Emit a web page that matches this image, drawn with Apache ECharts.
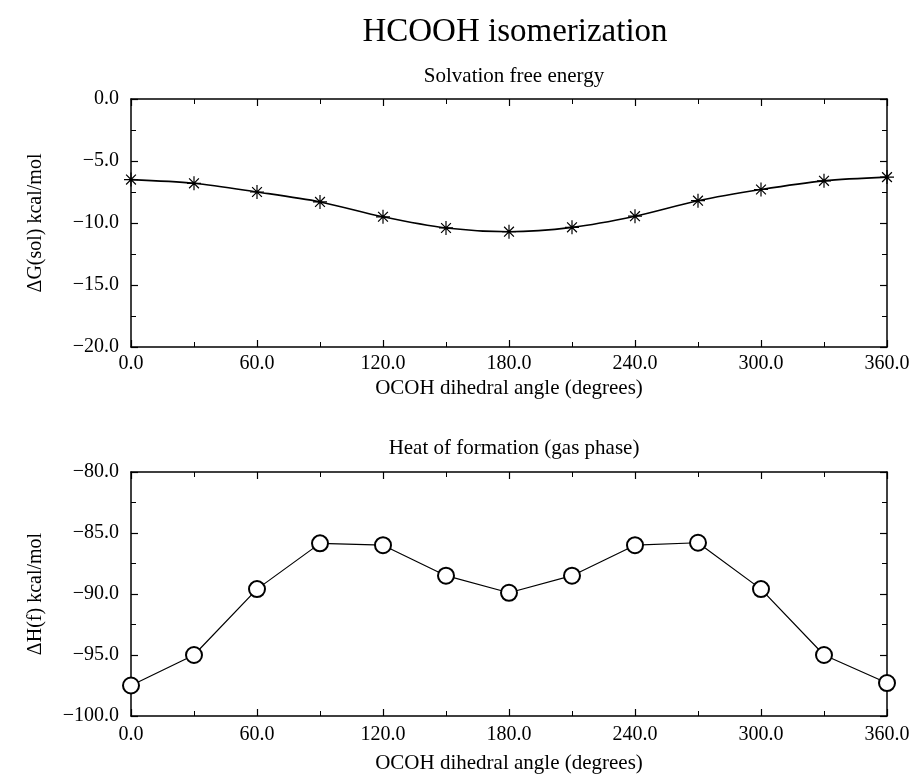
<!DOCTYPE html>
<html>
<head>
<meta charset="utf-8">
<script src="https://cdn.jsdelivr.net/npm/echarts@6/dist/echarts.min.js"></script>
<style>
html, body { margin: 0; padding: 0; background: #fff; }
#chart { width: 915px; height: 774px; }
</style>
</head>
<body>
<div id="chart"></div>
<script>
var angles = [0, 30, 60, 90, 120, 150, 180, 210, 240, 270, 300, 330, 360];
var dGsol = [-6.5, -6.8, -7.5, -8.3, -9.5, -10.4, -10.7, -10.35, -9.45, -8.2, -7.3, -6.6, -6.3];
var dHf = [-97.5, -95.0, -89.6, -85.85, -86.0, -88.5, -89.9, -88.5, -86.0, -85.8, -89.6, -95.0, -97.3];

(function () {
    var myChart = echarts.init(document.querySelector('#chart'));
    var font = 'Liberation Serif';
    var fmt = function (v) {
        return (v < 0 ? '\u2212' : '') + Math.abs(v).toFixed(1);
    };
    var star = 'path://M0,-1L0,1M-1,0L1,0M-0.7,-0.7L0.7,0.7M-0.7,0.7L0.7,-0.7';

    function xAx(grid, show, margin, gap) {
        return {
            type: 'value', gridIndex: grid, min: 0, max: 360, interval: 60,
            position: show ? 'bottom' : 'top',
            name: show ? 'OCOH dihedral angle (degrees)' : '',
            nameLocation: 'middle', nameGap: gap,
            nameTextStyle: { fontFamily: font, fontSize: 21, color: '#000', verticalAlign: 'top' },
            axisLine: { show: true, onZero: false, lineStyle: { color: '#000', width: 1.5 } },
            axisTick: { show: true, inside: true, length: 7, lineStyle: { color: '#000', width: 1.2 } },
            minorTick: { show: true, splitNumber: 2, length: 5, lineStyle: { color: '#000', width: 1 } },
            axisLabel: { show: show, margin: margin, formatter: fmt,
                fontFamily: font, fontSize: 20, color: '#000' },
            splitLine: { show: false }
        };
    }
    function yAx(grid, min, max, name, show) {
        return {
            type: 'value', gridIndex: grid, min: min, max: max, interval: 5,
            position: show ? 'left' : 'right',
            name: show ? name : '',
            nameLocation: 'middle', nameGap: 85, nameRotate: 90,
            nameTextStyle: { fontFamily: font, fontSize: 20, color: '#000' },
            axisLine: { show: true, onZero: false, lineStyle: { color: '#000', width: 1.5 } },
            axisTick: { show: true, inside: true, length: 7, lineStyle: { color: '#000', width: 1.2 } },
            minorTick: { show: true, splitNumber: 2, length: 5, lineStyle: { color: '#000', width: 1 } },
            axisLabel: { show: show, margin: 12, formatter: fmt,
                fontFamily: font, fontSize: 20, color: '#000' },
            splitLine: { show: false }
        };
    }

    myChart.setOption({
        backgroundColor: '#fff',
        animation: false,
        title: [{
            text: 'HCOOH isomerization',
            left: 510, top: 11, textAlign: 'center',
            textStyle: { fontFamily: font, fontSize: 33, fontWeight: 'normal', color: '#000' }
        }, {
            text: 'Solvation free energy',
            left: 509, top: 61, textAlign: 'center',
            textStyle: { fontFamily: font, fontSize: 21, fontWeight: 'normal', color: '#000' }
        }, {
            text: 'Heat of formation (gas phase)',
            left: 509, top: 433, textAlign: 'center',
            textStyle: { fontFamily: font, fontSize: 21, fontWeight: 'normal', color: '#000' }
        }],
        grid: [
            { left: 131, width: 756, top: 99, height: 248, outerBoundsMode: 'none', containLabel: false },
            { left: 131, width: 756, top: 472, height: 244, outerBoundsMode: 'none', containLabel: false }
        ],
        xAxis: [xAx(0, true, 7, 31), xAx(0, false, 7, 31), xAx(1, true, 9, 37), xAx(1, false, 9, 37)],
        yAxis: [
            yAx(0, -20, 0, '\u0394G(sol) kcal/mol', true),
            yAx(0, -20, 0, '', false),
            yAx(1, -100, -80, '\u0394H(f) kcal/mol', true),
            yAx(1, -100, -80, '', false)
        ],
        series: [{
            type: 'line',
            xAxisIndex: 0, yAxisIndex: 0,
            data: angles.map(function (a, i) { return [a, dGsol[i]]; }),
            smooth: 0.3,
            symbol: star, symbolSize: 14,
            itemStyle: { color: '#000', borderColor: '#000', borderWidth: 1.2 },
            lineStyle: { color: '#000', width: 1.6 }
        }, {
            type: 'line',
            xAxisIndex: 2, yAxisIndex: 2,
            data: angles.map(function (a, i) { return [a, dHf[i]]; }),
            symbol: 'emptyCircle', symbolSize: 16,
            itemStyle: { color: '#000', borderColor: '#000', borderWidth: 1.2 },
            lineStyle: { color: '#000', width: 1.2 }
        }]
    });
})();
</script>
</body>
</html>
